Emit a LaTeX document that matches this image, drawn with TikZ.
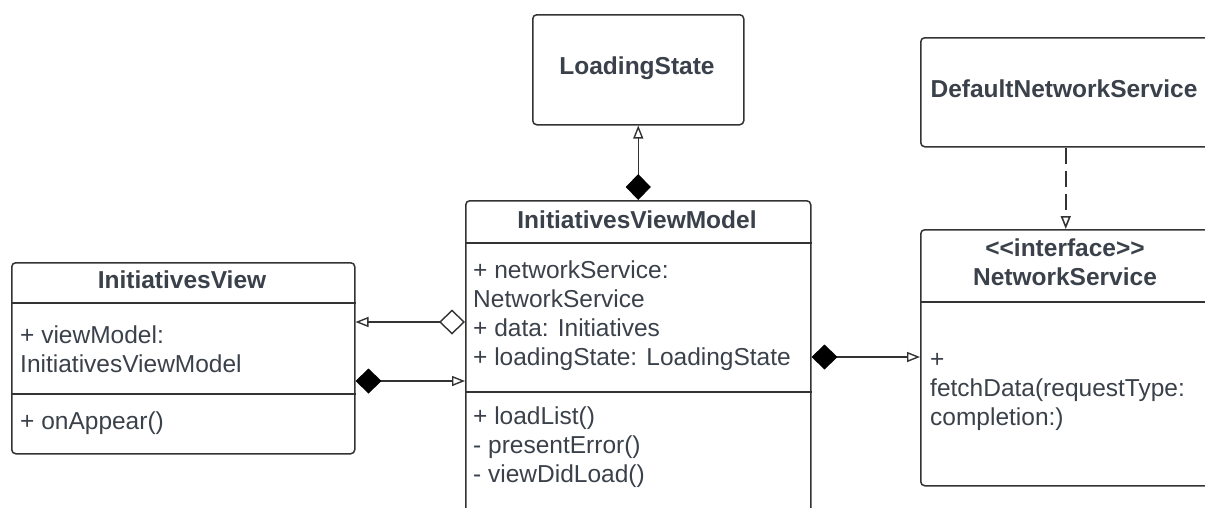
\documentclass[tikz,border=0pt]{standalone}
\usepackage{fontspec}
\setmainfont{Liberation Sans}
\usetikzlibrary{arrows.meta}
\definecolor{umltext}{HTML}{3A414A}
\definecolor{umlline}{HTML}{333333}
\tikzset{
	tri/.tip={Triangle[open, length=13pt, width=10pt]},
	fdia/.tip={Diamond[length=26pt, width=25pt, color=black, fill=black]},
	odia/.tip={Diamond[open, length=26pt, width=25pt]}
}

\begin{document}
\begin{tikzpicture}[x=1pt, y=-1pt,
		classbox/.style={draw=umlline, line width=1.5pt, rounded corners=4pt, inner sep=0pt, anchor=north west},
		sep/.style={draw=umlline, line width=1.5pt},
		title/.style={text=umltext, font=\fontsize{24.5}{29}\selectfont\bfseries, align=center, inner sep=0pt},
		member/.style={text=umltext, font=\fontsize{24.5}{29}\selectfont, align=left, anchor=north west, inner sep=0pt},
		link/.style={draw=umlline, line width=1.4pt}]
		\useasboundingbox (0,0) rectangle (1205,507);
		\clip (0,0) rectangle (1205,507);

		\node[classbox, minimum width=211pt, minimum height=110pt] at (532,14) (loading) {};
		\node[title] at (637,68) (loadingT) {LoadingState};

		\node[classbox, minimum width=345pt, minimum height=330pt] at (465,200) (vm) {};
		\draw[sep] ([yshift=-43pt]vm.north west) -- ([yshift=-43pt]vm.north east);
		\draw[sep] ([yshift=-192pt]vm.north west) -- ([yshift=-192pt]vm.north east);
		\node[title] at (637,220) (vmT) {InitiativesViewModel};
		\node[member] at (473,261) (vmA) {+ networkService:\\NetworkService\\+ data: Initiatives\\+ loadingState: LoadingState};
		\node[member] at (473,407) (vmM) {+ loadList()\\- presentError()\\- viewDidLoad()};

		\node[classbox, minimum width=343pt, minimum height=191pt] at (11,262) (view) {};
		\draw[sep] ([yshift=-41pt]view.north west) -- ([yshift=-41pt]view.north east);
		\draw[sep] ([yshift=-132pt]view.north west) -- ([yshift=-132pt]view.north east);
		\node[title] at (182,280) (viewT) {InitiativesView};
		\node[member] at (20,326) (viewA) {+ viewModel:\\InitiativesViewModel};
		\node[member] at (20,412) (viewM) {+ onAppear()};

		\node[classbox, minimum width=290pt, minimum height=109pt] at (920,37) (def) {};
		\node[title] at (1064,89) (defT) {DefaultNetworkService};

		\node[classbox, minimum width=290pt, minimum height=256pt] at (920,229) (ns) {};
		\draw[sep] ([yshift=-73pt]ns.north west) -- ([yshift=-73pt]ns.north east);
		\node[title] at (1065,262) (nsT) {<\kern0pt<interface>\kern0pt>\\NetworkService};
		\node[member] at (930,353) (nsM) {+\\fetchData(requestType:\\completion:)};

		\coordinate (vmL) at ([yshift=-122pt]vm.north west);
		\coordinate (viewR) at ([yshift=-119pt]view.north east);
		\coordinate (vmR) at ([yshift=-157pt]vm.north east);

		\draw[link, fdia-tri] (vm.north) -- (loading.south);
		\draw[link, odia-tri] (vmL) -- (vmL -| view.east);
		\draw[link, fdia-tri] (viewR) -- (viewR -| vm.west);
		\draw[link, fdia-tri] (vmR) -- (vmR -| ns.west);
		\draw[link, line width=1.6pt, dash pattern=on 16pt off 7pt, -tri] (def.south) -- (ns.north);
	\end{tikzpicture}
\end{document}
